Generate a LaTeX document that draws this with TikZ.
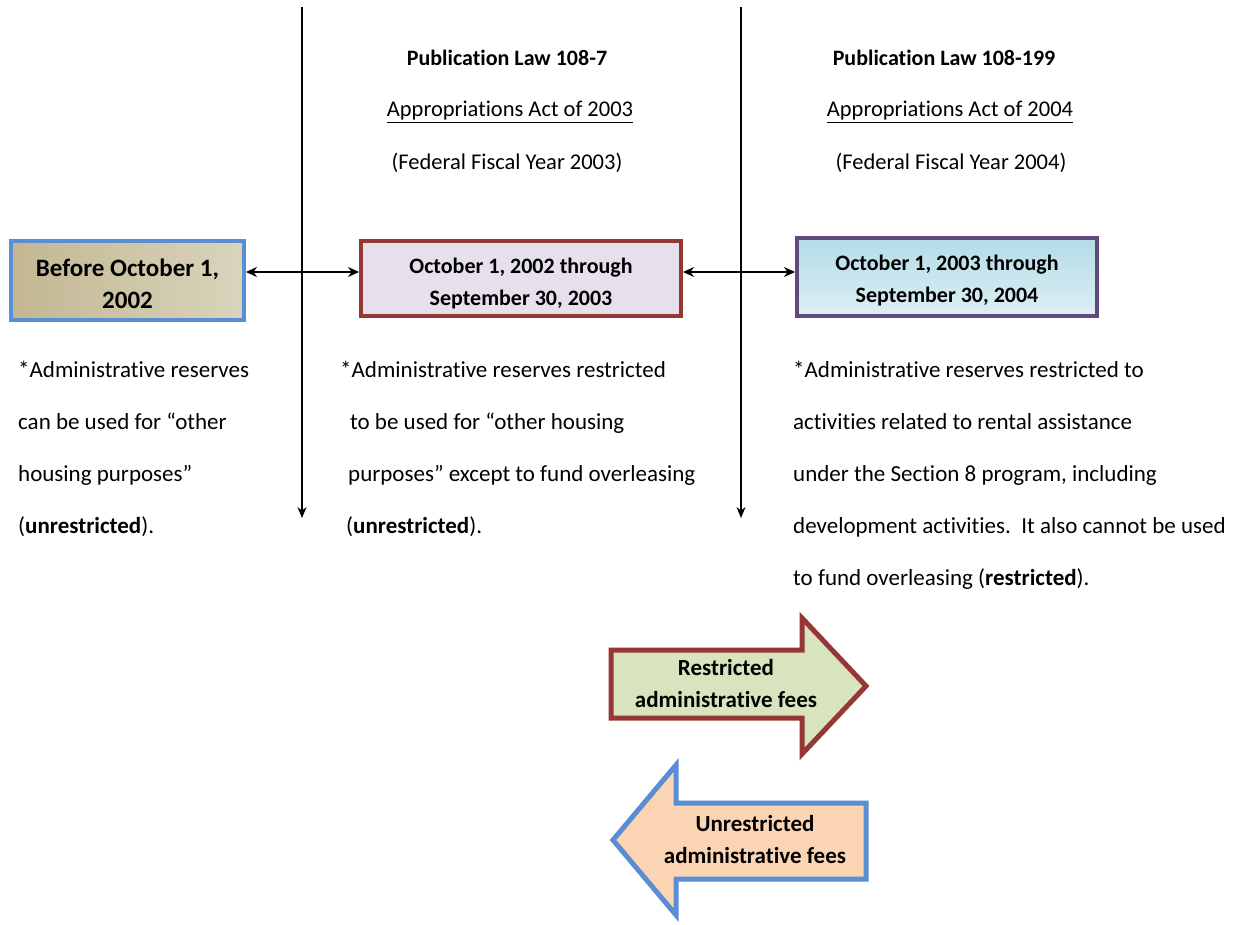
\documentclass[tikz,border=0pt]{standalone}
\usepackage{fontspec}
\setmainfont{Carlito}[Ligatures={NoCommon}]
\usepackage{tikz}
\usetikzlibrary{shapes,arrows.meta,positioning}
\definecolor{edgeblue}{HTML}{5A8DD3}
\definecolor{edgered}{HTML}{953735}
\definecolor{edgepurple}{HTML}{604A7B}
\definecolor{tanleft}{HTML}{C3B792}
\definecolor{tanright}{HTML}{D9D4BC}
\definecolor{lavender}{HTML}{E6E0EC}
\definecolor{skytop}{HTML}{B4DCE7}
\definecolor{skybottom}{HTML}{DDEFF4}
\definecolor{feegreen}{HTML}{D7E4BD}
\definecolor{feepeach}{HTML}{FBD4B4}
\tikzset{
  period/.style={draw, line width=4pt, inner sep=0pt},
  periodtext/.style={align=center, inner sep=0pt,
    font=\fontsize{22}{32}\selectfont\bfseries},
  note/.style={anchor=north west, align=left, inner sep=0pt,
    font=\fontsize{23}{52}\selectfont},
  heading/.style={inner sep=0pt, font=\fontsize{22.5}{24}\selectfont},
  lawname/.style={inner sep=0pt, font=\fontsize{22}{24}\selectfont\bfseries},
  fee/.style={align=center, inner sep=0pt, font=\fontsize{23}{32}\selectfont\bfseries},
  link/.style={{Stealth[length=11pt,width=10pt]}-{Stealth[length=11pt,width=10pt]}, line width=1.2pt},
  lawline/.style={-{Stealth[length=11pt,width=9pt]}, line width=1.2pt},
}

\begin{document}
\begin{tikzpicture}[x=1pt,y=-1pt]
\fill[white] (0,0) rectangle (1233,924);
\useasboundingbox (0,0) rectangle (1233,924);

\coordinate (top7) at (302,7);
\coordinate (end7) at (302,518);
\coordinate (top199) at (741,7);
\coordinate (end199) at (741,518);
\coordinate (linky) at (0,272);
\draw[lawline] (top7) -- (end7);
\draw[lawline] (top199) -- (end199);

\node[lawname] (law7) at (507,58) {Publication Law 108-7};
\node[heading] (act2003) at (510,112) {\underline{Appropriations Act of 2003}};
\node[heading] (ffy2003) at (507,163) {(Federal Fiscal Year 2003)};
\node[lawname] (law199) at (944,58) {Publication Law 108-199};
\node[heading] (act2004) at (950,112) {\underline{Appropriations Act of 2004}};
\node[heading] (ffy2004) at (951,163) {(Federal Fiscal Year 2004)};

\node[period, draw=edgeblue, left color=tanleft, right color=tanright,
  minimum width=233pt, minimum height=79pt] (before) at (127.5,280.5) {};
\node[periodtext, font=\fontsize{25}{32}\selectfont\bfseries] (beforetext)
  at ([yshift=-3pt]before.center) {Before October 1,\\2002};
\node[period, draw=edgered, fill=lavender,
  minimum width=320pt, minimum height=75pt] (fy2003) at (521,278.5) {};
\node[periodtext] (fy2003text) at ([yshift=-5pt]fy2003.center) {October 1, 2002 through\\September 30, 2003};
\node[period, draw=edgepurple, top color=skytop, bottom color=skybottom,
  minimum width=300pt, minimum height=78pt] (fy2004) at (947,277) {};
\node[periodtext] (fy2004text) at ([yshift=-4pt]fy2004.center) {October 1, 2003 through\\September 30, 2004};

\draw[link] (before.east |- linky) -- (fy2003.west |- linky);
\draw[link] (fy2003.east |- linky) -- (fy2004.west |- linky);

\node[note] (notebefore) at (18,361) {*Administrative reserves\\can be used for “other\\housing purposes”\\(\textbf{unrestricted}).};
\node[note] (note2003) at (340,361) {*Administrative reserves restricted\\\hspace*{10pt}to be used for “other housing\\\hspace*{8pt}purposes” except to fund overleasing\\\hspace*{6pt}(\textbf{unrestricted}).};
\node[note] (note2004) at (793,361) {*Administrative reserves restricted to\\activities related to rental assistance\\under the Section 8 program, including\\development activities.\ \ It also cannot be used\\to fund overleasing (\textbf{restricted}).};

\draw[edgered, line width=5pt, fill=feegreen, line join=miter]
  (611,650) -- (802,650) -- (802,618) -- (866,686) -- (802,754) -- (802,718) -- (611,718) -- cycle;
\node[fee] (restricted) at (726,684) {Restricted\\administrative fees};

\draw[edgeblue, line width=5pt, fill=feepeach, line join=miter]
  (613,840) -- (676,765) -- (676,803) -- (866,803) -- (866,879) -- (676,879) -- (676,915) -- cycle;
\node[fee] (unrestricted) at (755,839) {Unrestricted\\administrative fees};
\end{tikzpicture}
\end{document}
